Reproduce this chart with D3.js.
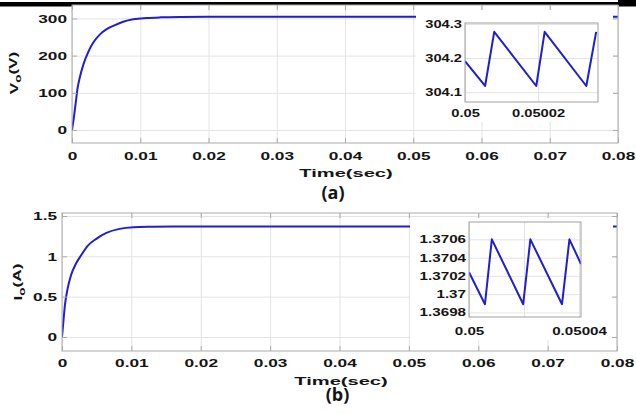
<!DOCTYPE html>
<html><head><meta charset="utf-8">
<script src="https://cdn.jsdelivr.net/npm/d3@7"></script>
<style>body{margin:0;background:#fff}svg{display:block}</style>
</head><body>
<script>
// ---------- data ----------
const timeA = [0, 0.00029, 0.00054, 0.00078, 0.00117, 0.00165, 0.00239, 0.00312, 0.0041, 0.00508, 0.00605, 0.00751, 0.00898, 0.0109, 0.013, 0.016, 0.02, 0.03, 0.05, 0.08];
const voltA = [0, 36, 72, 108, 143, 175, 210, 235, 257, 271, 280, 291, 297.5, 301, 302.8, 303.8, 304.2, 304.2, 304.2, 304.2];

const timeB = [0, 0.0002, 0.00043, 0.00081, 0.0013, 0.00202, 0.00274, 0.0037, 0.005, 0.0064, 0.0083, 0.0103, 0.013, 0.016, 0.02, 0.05, 0.08];
const currB = [0, 0.19, 0.40, 0.60, 0.765, 0.91, 1.01, 1.13, 1.22, 1.29, 1.34, 1.36, 1.366, 1.369, 1.3701, 1.3701, 1.3701];

const insetTimeA = [0.05, 0.0500055, 0.0500080, 0.0500195, 0.0500218, 0.0500332, 0.0500359];
const insetVoltA = [304.191, 304.118, 304.277, 304.118, 304.277, 304.118, 304.277];

const insetTimeB = [0.05, 0.0500058, 0.0500083, 0.0500197, 0.0500223, 0.0500338, 0.0500365, 0.0500407];
const insetCurrB = [1.37024, 1.36989, 1.37060, 1.36989, 1.37060, 1.36989, 1.37060, 1.37033];

const mainXTicks = [0, 0.01, 0.02, 0.03, 0.04, 0.05, 0.06, 0.07, 0.08];
const mainXLabels = ["0", "0.01", "0.02", "0.03", "0.04", "0.05", "0.06", "0.07", "0.08"];
const yTicksA = [0, 100, 200, 300];
const yLabelsA = ["0", "100", "200", "300"];
const yTicksB = [0, 0.5, 1, 1.5];
const yLabelsB = ["0", "0.5", "1", "1.5"];
const insetXTicksA = [0.05, 0.05002];
const insetXLabelsA = ["0.05", "0.05002"];
const insetYTicksA = [304.1, 304.2, 304.3];
const insetYLabelsA = ["304.1", "304.2", "304.3"];
const insetXTicksB = [0.05, 0.05002, 0.05004];
const insetXLabelsB = ["0.05", "", "0.05004"];
const insetYTicksB = [1.3698, 1.37, 1.3702, 1.3704, 1.3706];
const insetYLabelsB = ["1.3698", "1.37", "1.3702", "1.3704", "1.3706"];

// ---------- drawing ----------
const W = 636, H = 414;
const FONT = "'Liberation Sans', Arial, sans-serif";
const AX = "#ababab", GRID = "#e3e3e3", LINE = "#1f1fd2", TXT = "#141414";
const svg = d3.select("body").append("svg").attr("width", W).attr("height", H);
svg.append("rect").attr("width", W).attr("height", H).attr("fill", "#fff");

let clipId = 0;
function clip(x, y, w, h) {
  const id = "c" + (clipId++);
  svg.append("clipPath").attr("id", id).append("rect").attr("x", x).attr("y", y).attr("width", w).attr("height", h);
  return "url(#" + id + ")";
}
function labelMap(ticks, labels) { const m = new Map(); ticks.forEach((t, i) => m.set(t, labels[i])); return d => m.get(d); }

function styleText(g, size, sx) {
  g.selectAll("text").attr("font-family", FONT).attr("font-size", size).attr("font-weight", "bold")
    .attr("fill", TXT).attr("transform", `scale(${sx},1)`);
}

function drawAxes(o) {
  const x = d3.scaleLinear().domain(o.xd).range([o.x0, o.x1]);
  const y = d3.scaleLinear().domain(o.yd).range([o.y1, o.y0]);
  const w = o.x1 - o.x0, h = o.y1 - o.y0;
  svg.append("rect").attr("x", o.x0).attr("y", o.y0).attr("width", w).attr("height", h).attr("fill", "#fff");
  const gx = svg.append("g").attr("transform", `translate(0,${o.y1})`)
    .call(d3.axisBottom(x).tickValues(o.xt).tickSize(-h).tickFormat(""));
  const gy = svg.append("g").attr("transform", `translate(${o.x0},0)`)
    .call(d3.axisLeft(y).tickValues(o.yt).tickSize(-w).tickFormat(""));
  [gx, gy].forEach(g => { g.select(".domain").remove(); g.selectAll("line").attr("stroke", GRID).attr("stroke-width", 1); });
  const line = d3.line().x(d => x(d[0])).y(d => y(d[1])).curve(o.curve || d3.curveLinear);
  svg.append("path").datum(o.t.map((t, i) => [t, o.v[i]]))
    .attr("clip-path", clip(o.x0, o.y0, w, h))
    .attr("d", line).attr("fill", "none").attr("stroke", LINE).attr("stroke-width", o.lw)
    .attr("stroke-linejoin", "round");
  if (o.cover) svg.append("rect").attr("x", o.cover[0]).attr("y", o.cover[1])
    .attr("width", o.cover[2]).attr("height", o.cover[3]).attr("fill", "#fff");
  if (o.ticks) {
    const tk = [
      svg.append("g").attr("transform", `translate(0,${o.y0})`).call(d3.axisTop(x).tickValues(o.xt).tickSize(-o.ticks).tickFormat("")),
      svg.append("g").attr("transform", `translate(0,${o.y1})`).call(d3.axisBottom(x).tickValues(o.xt).tickSize(-o.ticks).tickFormat("")),
      svg.append("g").attr("transform", `translate(${o.x0},0)`).call(d3.axisLeft(y).tickValues(o.yt).tickSize(-o.ticks).tickFormat("")),
      svg.append("g").attr("transform", `translate(${o.x1},0)`).call(d3.axisRight(y).tickValues(o.yt).tickSize(-o.ticks).tickFormat(""))
    ];
    tk.forEach(g => { g.select(".domain").remove(); g.selectAll("line").attr("stroke", AX); });
  }
  svg.append("rect").attr("x", o.x0).attr("y", o.y0).attr("width", w).attr("height", h)
    .attr("fill", "none").attr("stroke", o.boxColor || AX).attr("stroke-width", 1);
  const lx = svg.append("g").attr("transform", `translate(0,${o.y1})`)
    .call(d3.axisBottom(x).tickValues(o.xt).tickSize(0).tickPadding(o.xpad).tickFormat(labelMap(o.xt, o.xl)));
  lx.select(".domain").remove();
  styleText(lx, o.fs, o.sx);
  const ly = svg.append("g").attr("transform", `translate(${o.x0},0)`)
    .call(d3.axisLeft(y).tickValues(o.yt).tickSize(0).tickPadding(o.ygap / o.sx).tickFormat(labelMap(o.yt, o.yl)));
  ly.select(".domain").remove();
  styleText(ly, o.fs, o.sx);
  return { x, y };
}

function text(x, y, size, sx, opts = {}) {
  return svg.append("text")
    .attr("transform", `translate(${x},${y}) rotate(${opts.rot || 0}) scale(${sx},1)`)
    .attr("text-anchor", opts.anchor || "middle")
    .attr("font-family", opts.family || FONT).attr("font-size", size)
    .attr("font-weight", "bold").attr("fill", TXT);
}

// top black bar (cropped page border)
svg.append("rect").attr("x", 0).attr("y", 2).attr("width", W).attr("height", 4.5).attr("fill", "#000");
svg.append("rect").attr("x", 618).attr("y", 0).attr("width", 18).attr("height", 6).attr("fill", "#000");

// ----- panel (a) -----
drawAxes({ x0: 72, x1: 618, y0: 5, y1: 143, xd: [0, 0.08], yd: [-35, 336],
  xt: mainXTicks, xl: mainXLabels, yt: yTicksA, yl: yLabelsA,
  t: timeA, v: voltA, lw: 2, curve: d3.curveMonotoneX,
  cover: [416, 10, 197, 112], ticks: 5, fs: 11.5, sx: 1.5, xpad: 9, ygap: 5 });
drawAxes({ x0: 465, x1: 598, y0: 23, y1: 102, xd: [0.05, 0.0500364], yd: [304.071, 304.303],
  xt: insetXTicksA, xl: insetXLabelsA, yt: insetYTicksA, yl: insetYLabelsA,
  t: insetTimeA, v: insetVoltA, lw: 2, boxColor: "#a0a0a0",
  fs: 10.5, sx: 1.4, xpad: 8, ygap: 3 });
const la = text(17.5, 73, 11.5, 1.5, { rot: -90 });
la.append("tspan").text("V");
la.append("tspan").attr("font-size", 9).attr("dy", "0.35em").text("o");
la.append("tspan").attr("dy", "-0.35em").text("(V)");
text(346, 177, 11.5, 1.75).text("Time(sec)");
text(333, 199, 18, 1, { family: "'Open Sans', sans-serif" }).text("(a)");

// ----- panel (b) -----
drawAxes({ x0: 62, x1: 617, y0: 213, y1: 351, xd: [0, 0.08], yd: [-0.174, 1.537],
  xt: mainXTicks, xl: mainXLabels, yt: yTicksB, yl: yLabelsB,
  t: timeB, v: currB, lw: 2, curve: d3.curveMonotoneX,
  cover: [410, 218, 203, 122], ticks: 5, fs: 11.5, sx: 1.5, xpad: 8, ygap: 5 });
drawAxes({ x0: 469, x1: 581, y0: 222, y1: 317, xd: [0.05, 0.0500407], yd: [1.36975, 1.37079],
  xt: insetXTicksB, xl: insetXLabelsB, yt: insetYTicksB, yl: insetYLabelsB,
  t: insetTimeB, v: insetCurrB, lw: 2, boxColor: "#a0a0a0",
  fs: 11, sx: 1.38, xpad: 10, ygap: 3 });
const lb = text(21.5, 282, 11.5, 1.5, { rot: -90 });
lb.append("tspan").text("I");
lb.append("tspan").attr("font-size", 9).attr("dy", "0.35em").text("o");
lb.append("tspan").attr("dy", "-0.35em").text("(A)");
text(341, 385, 11.5, 1.75).text("Time(sec)");
text(337.5, 401, 18, 1, { family: "'Open Sans', sans-serif" }).text("(b)");
</script>
</body></html>
